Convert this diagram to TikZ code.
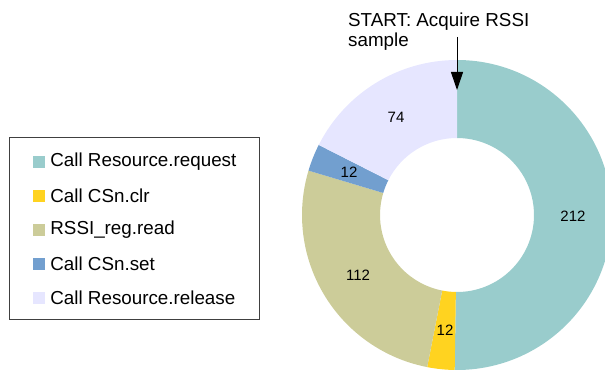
\documentclass[tikz,border=0pt]{standalone}
\usepackage{fontspec}
\setmainfont{Liberation Sans}
\usetikzlibrary{arrows.meta,positioning}

\definecolor{reqcol}{HTML}{99CCCC}
\definecolor{clrcol}{HTML}{FFD320}
\definecolor{readcol}{HTML}{CCCC99}
\definecolor{setcol}{HTML}{729FCF}
\definecolor{relcol}{HTML}{E6E6FF}

\begin{document}
\begin{tikzpicture}[x=1pt, y=1pt,
    count/.style={font=\fontsize{15}{18}\selectfont, inner sep=0pt},
    key/.style={rectangle, minimum size=12pt, inner sep=0pt},
    keytext/.style={font=\fontsize{18.8}{21}\selectfont, inner sep=0pt, anchor=west},
    pointer/.style={-{Triangle[width=12pt, length=18pt]}, line width=1pt}
]
\useasboundingbox (0,0) rectangle (605,370);
\clip (0,0) rectangle (605,370);

% Ring: 212 + 12 + 112 + 12 + 74 = 422, clockwise from the top
\begin{scope}[shift={(457,155)}]
\fill[reqcol] (90:155) arc[start angle=90, end angle=-90.85, radius=155]
    -- (-90.85:77) arc[start angle=-90.85, end angle=90, radius=77] -- cycle;
\fill[clrcol] (-90.85:155) arc[start angle=-90.85, end angle=-101.09, radius=155]
    -- (-101.09:77) arc[start angle=-101.09, end angle=-90.85, radius=77] -- cycle;
\fill[readcol] (-101.09:155) arc[start angle=-101.09, end angle=-196.64, radius=155]
    -- (-196.64:77) arc[start angle=-196.64, end angle=-101.09, radius=77] -- cycle;
\fill[setcol] (-196.64:155) arc[start angle=-196.64, end angle=-206.87, radius=155]
    -- (-206.87:77) arc[start angle=-206.87, end angle=-196.64, radius=77] -- cycle;
\fill[relcol] (-206.87:155) arc[start angle=-206.87, end angle=-270, radius=155]
    -- (-270:77) arc[start angle=-270, end angle=-206.87, radius=77] -- cycle;
\end{scope}

% Counts
\node[count] (nreq) at (573,154) {212};
\node[count] (nclr) at (445,40) {12};
\node[count] (nread) at (358,95) {112};
\node[count] (nset) at (349,198) {12};
\node[count] (nrel) at (396,253) {74};

% Start marker
\node[font=\fontsize{18.8}{20}\selectfont, align=left, inner sep=0pt, anchor=north west] (start) at (348,357) {START: Acquire RSSI\\sample};
\coordinate (arrowtop) at (457,333);
\coordinate (arrowtip) at (457,280);
\draw[pointer] (arrowtop) -- (arrowtip);

% Legend
\draw[black!75, line width=1pt] (9,51) rectangle (259,232);
\node[key, fill=reqcol] (k1) at (39,208) {};
\node[keytext, right=5pt of k1] (t1) {Call Resource.request};
\node[key, fill=clrcol] (k2) at (39,174) {};
\node[keytext, right=5pt of k2] (t2) {Call CSn.clr};
\node[key, fill=readcol] (k3) at (39,140) {};
\node[keytext, right=5pt of k3] (t3) {RSSI\_reg.read};
\node[key, fill=setcol] (k4) at (39,106) {};
\node[keytext, right=5pt of k4] (t4) {Call CSn.set};
\node[key, fill=relcol] (k5) at (39,72) {};
\node[keytext, right=5pt of k5] (t5) {Call Resource.release};

\end{tikzpicture}
\end{document}
